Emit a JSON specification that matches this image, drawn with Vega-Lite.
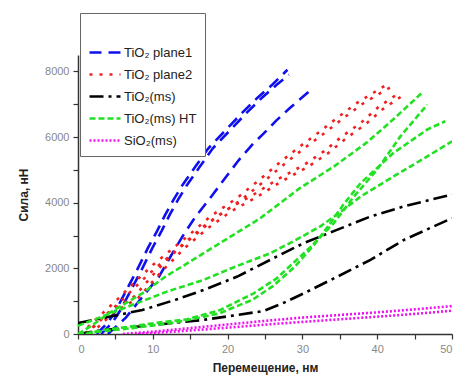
{
  "$schema": "https://vega.github.io/schema/vega-lite/v6.json",
  "width": 374,
  "height": 279,
  "autosize": {"type": "none"},
  "padding": {"left": 78, "top": 55, "right": 2, "bottom": 44},
  "background": "white",
  "config": {
    "view": {"stroke": null},
    "font": "Liberation Sans",
    "axis": {"grid": false, "domainColor": "#333", "domainWidth": 1.5, "tickColor": "#333", "tickWidth": 1.2, "tickSize": 5, "labelColor": "#888", "labelFontSize": 11, "titleFontSize": 12, "titleFontWeight": "bold", "titleColor": "#222"}
  },
  "data": {"values": [
    {"s":"TiO₂ plane1","c":"b1a","x":2.5,"y":0},{"s":"TiO₂ plane1","c":"b1a","x":4,"y":350},{"s":"TiO₂ plane1","c":"b1a","x":5,"y":700},{"s":"TiO₂ plane1","c":"b1a","x":6.4,"y":1300},{"s":"TiO₂ plane1","c":"b1a","x":8,"y":2000},{"s":"TiO₂ plane1","c":"b1a","x":9.3,"y":2600},{"s":"TiO₂ plane1","c":"b1a","x":10.6,"y":3150},{"s":"TiO₂ plane1","c":"b1a","x":11.7,"y":3650},{"s":"TiO₂ plane1","c":"b1a","x":12.8,"y":4100},{"s":"TiO₂ plane1","c":"b1a","x":14,"y":4550},{"s":"TiO₂ plane1","c":"b1a","x":15.7,"y":5100},{"s":"TiO₂ plane1","c":"b1a","x":17.4,"y":5650},{"s":"TiO₂ plane1","c":"b1a","x":19.7,"y":6200},{"s":"TiO₂ plane1","c":"b1a","x":22,"y":6750},{"s":"TiO₂ plane1","c":"b1a","x":24,"y":7200},{"s":"TiO₂ plane1","c":"b1a","x":26,"y":7600},{"s":"TiO₂ plane1","c":"b1a","x":28,"y":8050},
    {"s":"TiO₂ plane1","c":"b1b","x":3.1,"y":0},{"s":"TiO₂ plane1","c":"b1b","x":4.6,"y":350},{"s":"TiO₂ plane1","c":"b1b","x":5.6,"y":700},{"s":"TiO₂ plane1","c":"b1b","x":7,"y":1300},{"s":"TiO₂ plane1","c":"b1b","x":8.6,"y":2000},{"s":"TiO₂ plane1","c":"b1b","x":9.9,"y":2600},{"s":"TiO₂ plane1","c":"b1b","x":11.2,"y":3150},{"s":"TiO₂ plane1","c":"b1b","x":12.3,"y":3650},{"s":"TiO₂ plane1","c":"b1b","x":13.4,"y":4100},{"s":"TiO₂ plane1","c":"b1b","x":14.6,"y":4550},{"s":"TiO₂ plane1","c":"b1b","x":16.3,"y":5100},{"s":"TiO₂ plane1","c":"b1b","x":18,"y":5650},{"s":"TiO₂ plane1","c":"b1b","x":20.3,"y":6200},{"s":"TiO₂ plane1","c":"b1b","x":22.6,"y":6750},{"s":"TiO₂ plane1","c":"b1b","x":24.6,"y":7200},{"s":"TiO₂ plane1","c":"b1b","x":26.6,"y":7600},{"s":"TiO₂ plane1","c":"b1b","x":28.2,"y":7900},
    {"s":"TiO₂ plane1","c":"b2","x":4,"y":0},{"s":"TiO₂ plane1","c":"b2","x":6.4,"y":500},{"s":"TiO₂ plane1","c":"b2","x":8.6,"y":1130},{"s":"TiO₂ plane1","c":"b2","x":10.8,"y":1740},{"s":"TiO₂ plane1","c":"b2","x":12.6,"y":2450},{"s":"TiO₂ plane1","c":"b2","x":14.1,"y":3020},{"s":"TiO₂ plane1","c":"b2","x":15.7,"y":3570},{"s":"TiO₂ plane1","c":"b2","x":18,"y":4240},{"s":"TiO₂ plane1","c":"b2","x":19.7,"y":4760},{"s":"TiO₂ plane1","c":"b2","x":21.5,"y":5300},{"s":"TiO₂ plane1","c":"b2","x":23.3,"y":5770},{"s":"TiO₂ plane1","c":"b2","x":24.7,"y":6080},{"s":"TiO₂ plane1","c":"b2","x":26.5,"y":6500},{"s":"TiO₂ plane1","c":"b2","x":28.4,"y":6900},{"s":"TiO₂ plane1","c":"b2","x":31.2,"y":7450},
    {"s":"TiO₂ plane2","c":"r1a","x":0.3,"y":0},{"s":"TiO₂ plane2","c":"r1a","x":2,"y":350},{"s":"TiO₂ plane2","c":"r1a","x":3.6,"y":700},{"s":"TiO₂ plane2","c":"r1a","x":5.2,"y":1040},{"s":"TiO₂ plane2","c":"r1a","x":7.9,"y":1650},{"s":"TiO₂ plane2","c":"r1a","x":10,"y":2100},{"s":"TiO₂ plane2","c":"r1a","x":11.9,"y":2460},{"s":"TiO₂ plane2","c":"r1a","x":14.6,"y":2970},{"s":"TiO₂ plane2","c":"r1a","x":17.7,"y":3580},{"s":"TiO₂ plane2","c":"r1a","x":21.3,"y":4150},{"s":"TiO₂ plane2","c":"r1a","x":24,"y":4650},{"s":"TiO₂ plane2","c":"r1a","x":27.1,"y":5250},{"s":"TiO₂ plane2","c":"r1a","x":29.7,"y":5720},{"s":"TiO₂ plane2","c":"r1a","x":32.4,"y":6180},{"s":"TiO₂ plane2","c":"r1a","x":34.9,"y":6630},{"s":"TiO₂ plane2","c":"r1a","x":37.3,"y":7040},{"s":"TiO₂ plane2","c":"r1a","x":39.5,"y":7350},{"s":"TiO₂ plane2","c":"r1a","x":41.3,"y":7600},
    {"s":"TiO₂ plane2","c":"r1b","x":0.9,"y":0},{"s":"TiO₂ plane2","c":"r1b","x":2.6,"y":330},{"s":"TiO₂ plane2","c":"r1b","x":4.2,"y":680},{"s":"TiO₂ plane2","c":"r1b","x":5.8,"y":1010},{"s":"TiO₂ plane2","c":"r1b","x":8.5,"y":1620},{"s":"TiO₂ plane2","c":"r1b","x":10.6,"y":2060},{"s":"TiO₂ plane2","c":"r1b","x":12.5,"y":2420},{"s":"TiO₂ plane2","c":"r1b","x":15.2,"y":2930},{"s":"TiO₂ plane2","c":"r1b","x":18.3,"y":3530},{"s":"TiO₂ plane2","c":"r1b","x":21.9,"y":4100},{"s":"TiO₂ plane2","c":"r1b","x":24.6,"y":4600},{"s":"TiO₂ plane2","c":"r1b","x":27.7,"y":5200},{"s":"TiO₂ plane2","c":"r1b","x":30.3,"y":5670},{"s":"TiO₂ plane2","c":"r1b","x":33,"y":6130},{"s":"TiO₂ plane2","c":"r1b","x":35.5,"y":6580},{"s":"TiO₂ plane2","c":"r1b","x":37.9,"y":6990},{"s":"TiO₂ plane2","c":"r1b","x":40.1,"y":7300},{"s":"TiO₂ plane2","c":"r1b","x":41.8,"y":7520},
    {"s":"TiO₂ plane2","c":"r2a","x":1,"y":0},{"s":"TiO₂ plane2","c":"r2a","x":2.5,"y":300},{"s":"TiO₂ plane2","c":"r2a","x":3.9,"y":630},{"s":"TiO₂ plane2","c":"r2a","x":7.5,"y":1140},{"s":"TiO₂ plane2","c":"r2a","x":10.6,"y":1950},{"s":"TiO₂ plane2","c":"r2a","x":13.7,"y":2670},{"s":"TiO₂ plane2","c":"r2a","x":16.8,"y":3280},{"s":"TiO₂ plane2","c":"r2a","x":19.9,"y":3790},{"s":"TiO₂ plane2","c":"r2a","x":23.5,"y":4250},{"s":"TiO₂ plane2","c":"r2a","x":26.6,"y":4700},{"s":"TiO₂ plane2","c":"r2a","x":30.2,"y":5150},{"s":"TiO₂ plane2","c":"r2a","x":32.9,"y":5570},{"s":"TiO₂ plane2","c":"r2a","x":35.3,"y":6020},{"s":"TiO₂ plane2","c":"r2a","x":37.8,"y":6430},{"s":"TiO₂ plane2","c":"r2a","x":40.2,"y":6920},{"s":"TiO₂ plane2","c":"r2a","x":43.1,"y":7370},
    {"s":"TiO₂ plane2","c":"r2b","x":1.6,"y":0},{"s":"TiO₂ plane2","c":"r2b","x":3.1,"y":290},{"s":"TiO₂ plane2","c":"r2b","x":4.5,"y":610},{"s":"TiO₂ plane2","c":"r2b","x":8.1,"y":1110},{"s":"TiO₂ plane2","c":"r2b","x":11.2,"y":1910},{"s":"TiO₂ plane2","c":"r2b","x":14.3,"y":2630},{"s":"TiO₂ plane2","c":"r2b","x":17.4,"y":3230},{"s":"TiO₂ plane2","c":"r2b","x":20.5,"y":3740},{"s":"TiO₂ plane2","c":"r2b","x":24.1,"y":4200},{"s":"TiO₂ plane2","c":"r2b","x":27.2,"y":4650},{"s":"TiO₂ plane2","c":"r2b","x":30.8,"y":5100},{"s":"TiO₂ plane2","c":"r2b","x":33.5,"y":5520},{"s":"TiO₂ plane2","c":"r2b","x":35.9,"y":5970},{"s":"TiO₂ plane2","c":"r2b","x":38.4,"y":6380},{"s":"TiO₂ plane2","c":"r2b","x":40.8,"y":6860},{"s":"TiO₂ plane2","c":"r2b","x":43.5,"y":7280},
    {"s":"TiO₂(ms)","c":"k1","x":0,"y":330},{"s":"TiO₂(ms)","c":"k1","x":4,"y":520},{"s":"TiO₂(ms)","c":"k1","x":8.6,"y":730},{"s":"TiO₂(ms)","c":"k1","x":13,"y":1040},{"s":"TiO₂(ms)","c":"k1","x":16.8,"y":1340},{"s":"TiO₂(ms)","c":"k1","x":21.3,"y":1750},{"s":"TiO₂(ms)","c":"k1","x":25.7,"y":2260},{"s":"TiO₂(ms)","c":"k1","x":30.2,"y":2770},{"s":"TiO₂(ms)","c":"k1","x":34.7,"y":3180},{"s":"TiO₂(ms)","c":"k1","x":39.1,"y":3580},{"s":"TiO₂(ms)","c":"k1","x":43.6,"y":3890},{"s":"TiO₂(ms)","c":"k1","x":50,"y":4250},
    {"s":"TiO₂(ms)","c":"k2","x":0,"y":0},{"s":"TiO₂(ms)","c":"k2","x":3.4,"y":120},{"s":"TiO₂(ms)","c":"k2","x":10.1,"y":275},{"s":"TiO₂(ms)","c":"k2","x":16.8,"y":430},{"s":"TiO₂(ms)","c":"k2","x":21.3,"y":580},{"s":"TiO₂(ms)","c":"k2","x":24.8,"y":700},{"s":"TiO₂(ms)","c":"k2","x":27.5,"y":950},{"s":"TiO₂(ms)","c":"k2","x":30.2,"y":1240},{"s":"TiO₂(ms)","c":"k2","x":34.7,"y":1750},{"s":"TiO₂(ms)","c":"k2","x":39.1,"y":2260},{"s":"TiO₂(ms)","c":"k2","x":43.6,"y":2870},{"s":"TiO₂(ms)","c":"k2","x":50,"y":3530},
    {"s":"TiO₂(ms) HT","c":"g1","x":0,"y":0},{"s":"TiO₂(ms) HT","c":"g1","x":2,"y":280},{"s":"TiO₂(ms) HT","c":"g1","x":4.1,"y":630},{"s":"TiO₂(ms) HT","c":"g1","x":8.6,"y":1240},{"s":"TiO₂(ms) HT","c":"g1","x":11.7,"y":1750},{"s":"TiO₂(ms) HT","c":"g1","x":15.3,"y":2250},{"s":"TiO₂(ms) HT","c":"g1","x":19.7,"y":2870},{"s":"TiO₂(ms) HT","c":"g1","x":24.2,"y":3500},{"s":"TiO₂(ms) HT","c":"g1","x":29.7,"y":4450},{"s":"TiO₂(ms) HT","c":"g1","x":34.2,"y":5100},{"s":"TiO₂(ms) HT","c":"g1","x":38.7,"y":5850},{"s":"TiO₂(ms) HT","c":"g1","x":42.2,"y":6550},{"s":"TiO₂(ms) HT","c":"g1","x":46,"y":7350},
    {"s":"TiO₂(ms) HT","c":"g2","x":0,"y":250},{"s":"TiO₂(ms) HT","c":"g2","x":4,"y":600},{"s":"TiO₂(ms) HT","c":"g2","x":7.9,"y":940},{"s":"TiO₂(ms) HT","c":"g2","x":12,"y":1300},{"s":"TiO₂(ms) HT","c":"g2","x":16.8,"y":1650},{"s":"TiO₂(ms) HT","c":"g2","x":21,"y":2050},{"s":"TiO₂(ms) HT","c":"g2","x":25.7,"y":2460},{"s":"TiO₂(ms) HT","c":"g2","x":29,"y":2850},{"s":"TiO₂(ms) HT","c":"g2","x":32.4,"y":3280},{"s":"TiO₂(ms) HT","c":"g2","x":35,"y":3700},{"s":"TiO₂(ms) HT","c":"g2","x":37.8,"y":4190},{"s":"TiO₂(ms) HT","c":"g2","x":42.2,"y":4800},{"s":"TiO₂(ms) HT","c":"g2","x":46.7,"y":5410},{"s":"TiO₂(ms) HT","c":"g2","x":50,"y":5870},
    {"s":"TiO₂(ms) HT","c":"g3","x":1,"y":0},{"s":"TiO₂(ms) HT","c":"g3","x":3.4,"y":120},{"s":"TiO₂(ms) HT","c":"g3","x":7,"y":230},{"s":"TiO₂(ms) HT","c":"g3","x":10.1,"y":330},{"s":"TiO₂(ms) HT","c":"g3","x":14.6,"y":450},{"s":"TiO₂(ms) HT","c":"g3","x":19,"y":730},{"s":"TiO₂(ms) HT","c":"g3","x":23.5,"y":1240},{"s":"TiO₂(ms) HT","c":"g3","x":26.6,"y":1700},{"s":"TiO₂(ms) HT","c":"g3","x":28,"y":2000},{"s":"TiO₂(ms) HT","c":"g3","x":31.1,"y":2650},{"s":"TiO₂(ms) HT","c":"g3","x":34.2,"y":3380},{"s":"TiO₂(ms) HT","c":"g3","x":36.9,"y":4190},{"s":"TiO₂(ms) HT","c":"g3","x":40,"y":5010},{"s":"TiO₂(ms) HT","c":"g3","x":43.1,"y":6020},{"s":"TiO₂(ms) HT","c":"g3","x":46.7,"y":6990},
    {"s":"TiO₂(ms) HT","c":"g4","x":0,"y":0},{"s":"TiO₂(ms) HT","c":"g4","x":4,"y":100},{"s":"TiO₂(ms) HT","c":"g4","x":8,"y":200},{"s":"TiO₂(ms) HT","c":"g4","x":13,"y":350},{"s":"TiO₂(ms) HT","c":"g4","x":18.8,"y":620},{"s":"TiO₂(ms) HT","c":"g4","x":23.3,"y":1040},{"s":"TiO₂(ms) HT","c":"g4","x":26,"y":1450},{"s":"TiO₂(ms) HT","c":"g4","x":29,"y":2050},{"s":"TiO₂(ms) HT","c":"g4","x":31.5,"y":2700},{"s":"TiO₂(ms) HT","c":"g4","x":33.5,"y":3300},{"s":"TiO₂(ms) HT","c":"g4","x":35.5,"y":3950},{"s":"TiO₂(ms) HT","c":"g4","x":37.8,"y":4600},{"s":"TiO₂(ms) HT","c":"g4","x":42.2,"y":5520},{"s":"TiO₂(ms) HT","c":"g4","x":46.7,"y":6230},{"s":"TiO₂(ms) HT","c":"g4","x":49.1,"y":6480},
    {"s":"SiO₂(ms)","c":"m1","x":6,"y":0},{"s":"SiO₂(ms)","c":"m1","x":10,"y":70},{"s":"SiO₂(ms)","c":"m1","x":15,"y":180},{"s":"SiO₂(ms)","c":"m1","x":20,"y":290},{"s":"SiO₂(ms)","c":"m1","x":25,"y":400},{"s":"SiO₂(ms)","c":"m1","x":30,"y":500},{"s":"SiO₂(ms)","c":"m1","x":35,"y":580},{"s":"SiO₂(ms)","c":"m1","x":40,"y":660},{"s":"SiO₂(ms)","c":"m1","x":45,"y":750},{"s":"SiO₂(ms)","c":"m1","x":50,"y":850},
    {"s":"SiO₂(ms)","c":"m2","x":8,"y":0},{"s":"SiO₂(ms)","c":"m2","x":12,"y":60},{"s":"SiO₂(ms)","c":"m2","x":17,"y":140},{"s":"SiO₂(ms)","c":"m2","x":22,"y":230},{"s":"SiO₂(ms)","c":"m2","x":27,"y":320},{"s":"SiO₂(ms)","c":"m2","x":32,"y":400},{"s":"SiO₂(ms)","c":"m2","x":37,"y":480},{"s":"SiO₂(ms)","c":"m2","x":42,"y":560},{"s":"SiO₂(ms)","c":"m2","x":46,"y":630},{"s":"SiO₂(ms)","c":"m2","x":50,"y":710}
  ]},
  "mark": {"type": "line", "strokeWidth": 2.6, "clip": true},
  "encoding": {
    "x": {"field": "x", "type": "quantitative", "scale": {"domain": [0, 50], "nice": false}, "title": "Перемещение, нм",
      "axis": {"values": [0,5,10,15,20,25,30,35,40,45,50], "labelExpr": "datum.value % 10 === 0 ? datum.label : ''", "titlePadding": 8, "labelPadding": 4}},
    "y": {"field": "y", "type": "quantitative", "scale": {"domain": [0, 8500], "nice": false}, "title": "Сила, нН",
      "axis": {"values": [0,1000,2000,3000,4000,5000,6000,7000,8000], "labelExpr": "datum.value % 2000 === 0 ? datum.value : ''", "titlePadding": 14, "labelPadding": 4}},
    "detail": {"field": "c"},
    "color": {"field": "s", "type": "nominal",
      "scale": {"domain": ["TiO₂ plane1","TiO₂ plane2","TiO₂(ms)","TiO₂(ms) HT","SiO₂(ms)"], "range": ["#1010ee","#f02020","#000000","#22e022","#ee10ee"]},
      "legend": {"title": " ", "titleFontSize": 12, "titlePadding": 12, "orient": "none", "legendX": 2, "legendY": -42, "strokeColor": "#666", "fillColor": "white", "padding": 8, "rowPadding": 7, "clipHeight": 15, "labelFontSize": 13, "labelColor": "#222", "symbolType": "stroke", "symbolSize": 961, "symbolStrokeWidth": 2.6, "labelOffset": 2}},
    "strokeDash": {"field": "s", "type": "nominal",
      "scale": {"domain": ["TiO₂ plane1","TiO₂ plane2","TiO₂(ms)","TiO₂(ms) HT","SiO₂(ms)"], "range": [[12,7],[3,7],[14,5,3,5],[6,3],[2,2]]},
      "legend": null}
  }
}
